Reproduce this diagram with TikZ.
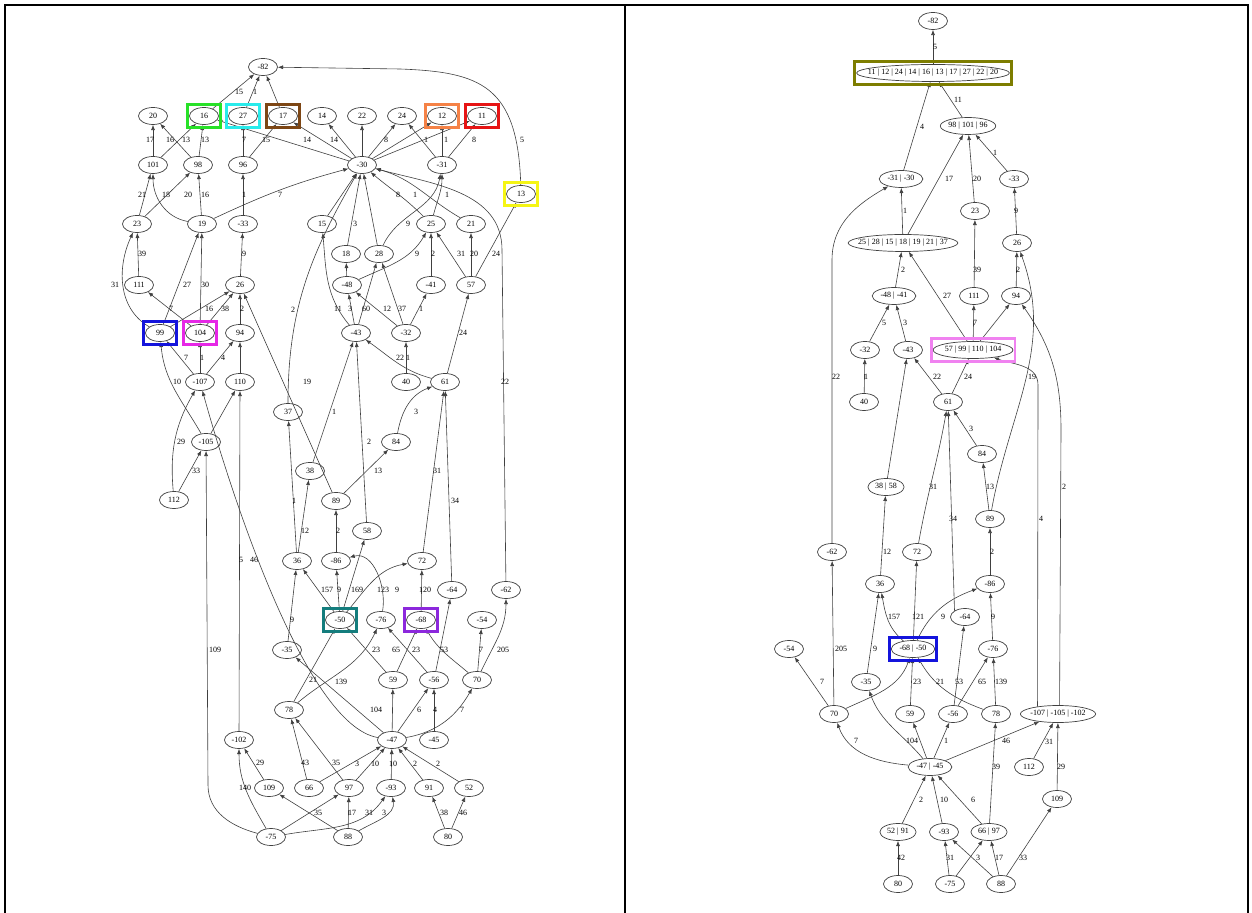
\documentclass[tikz,border=0pt]{standalone}
\usepackage{fontspec}
\setmainfont{Liberation Serif}
\usetikzlibrary{arrows.meta,fit,shapes.geometric}

\definecolor{hlgreen}{RGB}{40,225,40}
\definecolor{hlcyan}{RGB}{40,235,235}
\definecolor{hlbrown}{RGB}{125,70,20}
\definecolor{hlorange}{RGB}{245,130,70}
\definecolor{hlred}{RGB}{230,20,20}
\definecolor{hlyellow}{RGB}{245,245,20}
\definecolor{hlblue}{RGB}{20,20,220}
\definecolor{hlmagenta}{RGB}{230,40,230}
\definecolor{hlteal}{RGB}{20,125,125}
\definecolor{hlpurple}{RGB}{140,40,220}
\definecolor{hlolive}{RGB}{125,125,0}
\definecolor{hlpink}{RGB}{240,130,240}

\begin{document}
\begin{tikzpicture}[x=0.5pt,y=-0.5pt,
    vtx/.style={draw=black!75, ellipse, line width=0.35pt, minimum width=14.5pt, minimum height=8.5pt,
        inner xsep=1pt, inner ysep=0pt, font=\fontsize{4}{5}\selectfont},
    el/.style={inner sep=0pt, text=black, font=\fontsize{4}{5}\selectfont},
    arr/.style={-{Latex[length=2.6pt,width=2pt]}, line width=0.3pt, black!75},
    hl/.style={draw=#1, line width=1.4pt, inner xsep=0.8pt, inner ysep=1.3pt}]
\useasboundingbox (0,0) rectangle (1252,913);
% frame
\draw[line width=1.1pt] (5,913) -- (5,5) -- (1248,5) -- (1248,913);
\draw[line width=1.1pt] (625,5) -- (625,913);

% left graph
\node[vtx] (lm82) at (263,67) {-82};
\node[vtx] (l20) at (153,116) {20};
\node[vtx] (l16) at (204,116) {16};
\node[vtx] (l27) at (243,116) {27};
\node[vtx] (l17) at (283,116) {17};
\node[vtx] (l14) at (322,116) {14};
\node[vtx] (l22) at (362,116) {22};
\node[vtx] (l24) at (402,116) {24};
\node[vtx] (l12) at (442,116) {12};
\node[vtx] (l11) at (482,116) {11};
\node[vtx] (l101) at (153,165) {101};
\node[vtx] (l98) at (198,165) {98};
\node[vtx] (l96) at (243,165) {96};
\node[vtx] (lm30) at (362,165) {-30};
\node[vtx] (lm31) at (442,165) {-31};
\node[vtx] (l13) at (521,194) {13};
\node[vtx] (l23) at (137,224) {23};
\node[vtx] (l19) at (202,224) {19};
\node[vtx] (lm33) at (243,224) {-33};
\node[vtx] (l15) at (322,224) {15};
\node[vtx] (l25) at (431,224) {25};
\node[vtx] (l21) at (471,224) {21};
\node[vtx] (l18) at (346,254) {18};
\node[vtx] (l28) at (379,254) {28};
\node[vtx] (l111) at (139,285) {111};
\node[vtx] (l26) at (240,285) {26};
\node[vtx] (lm48) at (347,285) {-48};
\node[vtx] (lm41) at (431,285) {-41};
\node[vtx] (l57) at (471,285) {57};
\node[vtx] (l99) at (160,333) {99};
\node[vtx] (l104) at (200,333) {104};
\node[vtx] (l94) at (240,333) {94};
\node[vtx] (lm43) at (356,333) {-43};
\node[vtx] (lm32) at (406,333) {-32};
\node[vtx] (lm107) at (200,382) {-107};
\node[vtx] (l110) at (240,382) {110};
\node[vtx] (l40) at (406,382) {40};
\node[vtx] (l61) at (445,382) {61};
\node[vtx] (l37) at (288,412) {37};
\node[vtx] (lm105) at (206,442) {-105};
\node[vtx] (l84) at (396,442) {84};
\node[vtx] (l38) at (310,471) {38};
\node[vtx] (l112) at (174,500) {112};
\node[vtx] (l89) at (336,501) {89};
\node[vtx] (l58) at (367,531) {58};
\node[vtx] (l36) at (297,561) {36};
\node[vtx] (lm86) at (336,561) {-86};
\node[vtx] (l72) at (422,561) {72};
\node[vtx] (lm64) at (452,590) {-64};
\node[vtx] (lm62) at (506,590) {-62};
\node[vtx] (lm50) at (340,620) {-50};
\node[vtx] (lm76) at (381,620) {-76};
\node[vtx] (lm68) at (421,620) {-68};
\node[vtx] (lm54) at (482,620) {-54};
\node[vtx] (lm35) at (287,650) {-35};
\node[vtx] (l59) at (393,680) {59};
\node[vtx] (lm56) at (434,680) {-56};
\node[vtx] (l70) at (477,680) {70};
\node[vtx] (l78) at (289,710) {78};
\node[vtx] (lm102) at (239,740) {-102};
\node[vtx] (lm47) at (392,740) {-47};
\node[vtx] (lm45) at (434,740) {-45};
\node[vtx] (l109) at (269,788) {109};
\node[vtx] (l66) at (309,788) {66};
\node[vtx] (l97) at (349,788) {97};
\node[vtx] (lm93) at (391,788) {-93};
\node[vtx] (l91) at (429,788) {91};
\node[vtx] (l52) at (469,788) {52};
\node[vtx] (lm75) at (271,837) {-75};
\node[vtx] (l88) at (348,837) {88};
\node[vtx] (l80) at (448,837) {80};

\draw[arr] (l16) -- (lm82) node[el] at (239,92) {15};
\draw[arr] (l27) -- (lm82) node[el] at (255,92) {1};
\draw[arr] (l17) -- (lm82);
\draw[arr] (l13) .. controls (518,85) and (480,72) .. (400,69) -- (lm82) node[el] at (522,140) {5};
\draw[arr] (l101) -- (l20) node[el] at (150,140) {17};
\draw[arr] (l98) -- (l20) node[el] at (170,140) {16};
\draw[arr] (l101) -- (l16) node[el] at (186,140) {13};
\draw[arr] (l98) -- (l16) node[el] at (205,140) {13};
\draw[arr] (l96) -- (l27) node[el] at (244,140) {7};
\draw[arr] (l96) -- (l17) node[el] at (266,140) {15};
\draw[arr] (lm30) -- (l16) node[el] at (307,140) {14};
\draw[arr] (lm30) -- (l17);
\draw[arr] (lm30) -- (l14) node[el] at (334,140) {14};
\draw[arr] (lm30) -- (l22);
\draw[arr] (lm30) -- (l24) node[el] at (386,140) {8};
\draw[arr] (lm30) -- (l12);
\draw[arr] (lm30) -- (l11);
\draw[arr] (lm31) -- (l24) node[el] at (426,140) {1};
\draw[arr] (lm31) -- (l12) node[el] at (446,140) {1};
\draw[arr] (lm31) -- (l11) node[el] at (474,140) {8};
\draw[arr] (l23) -- (l101) node[el] at (142,195) {21};
\draw[arr] (l19) to[out=170,in=-90] (l101) node[el] at (166,195) {18};
\draw[arr] (l23) -- (l98) node[el] at (188,195) {20};
\draw[arr] (l19) -- (l98) node[el] at (205,195) {16};
\draw[arr] (lm33) -- (l96) node[el] at (244,195) {1};
\draw[arr] (l19) to[out=25,in=195] (lm30) node[el] at (280,195) {7};
\draw[arr] (l111) -- (l23) node[el] at (142,254) {39};
\draw[arr] (l99) to[out=150,in=-115] (l23) node[el] at (115,285) {31};
\draw[arr] (l99) -- (l19) node[el] at (187,285) {27};
\draw[arr] (l104) -- (l19) node[el] at (205,285) {30};
\draw[arr] (l104) -- (l111) node[el] at (171,309) {7};
\draw[arr] (l99) -- (l26) node[el] at (209,309) {16};
\draw[arr] (l104) -- (l26) node[el] at (225,309) {38};
\draw[arr] (l94) -- (l26) node[el] at (242,309) {2};
\draw[arr] (l26) -- (lm33) node[el] at (244,254) {9};
\draw[arr] (lm107) -- (l99) node[el] at (186,358) {7};
\draw[arr] (lm107) -- (l104) node[el] at (202,358) {1};
\draw[arr] (lm107) -- (l94) node[el] at (223,358) {4};
\draw[arr] (l110) -- (l94);
\draw[arr] (lm105) to[out=120,in=-85] (l99) node[el] at (177,382) {10};
\draw[arr] (lm105) -- (l110);
\draw[arr] (l112) to[out=95,in=-120] (lm107) node[el] at (181,442) {29};
\draw[arr] (l112) -- (lm105) node[el] at (196,471) {33};
\draw[arr] (lm75) to[out=165,in=-90] (208,785) -- (lm105) node[el] at (215,650) {109};
\draw[arr] (lm102) -- (l110) node[el] at (241,560) {5};
\draw[arr] (lm47) .. controls (305,725) and (230,490) .. (lm107) node[el] at (254,560) {46};
\draw[arr] (l89) -- (l26) node[el] at (307,382) {19};
\draw[arr] (l37) to[out=90,in=-120] (lm30) node[el] at (293,310) {2};
\draw[arr] (l36) -- (l37) node[el] at (294,501) {1};
\draw[arr] (l36) -- (l38) node[el] at (305,531) {12};
\draw[arr] (l38) -- (lm43) node[el] at (334,412) {1};
\draw[arr] (lm35) -- (l36) node[el] at (292,620) {9};
\draw[arr] (lm50) -- (l36) node[el] at (327,590) {157};
\draw[arr] (lm50) -- (lm86) node[el] at (339,590) {9};
\draw[arr] (lm50) -- (l58) node[el] at (357,590) {169};
\draw[arr] (lm50) to[out=50,in=190] (l72) node[el] at (383,590) {123};
\draw[arr] (lm76) to[out=80,in=15] (lm86) node[el] at (397,590) {9};
\draw[arr] (lm68) -- (l72) node[el] at (425,590) {120};
\draw[arr] (lm86) -- (l89) node[el] at (338,531) {2};
\draw[arr] (l89) -- (l84) node[el] at (378,471) {13};
\draw[arr] (l58) -- (lm43) node[el] at (369,442) {2};
\draw[arr] (l84) to[out=80,in=200] (l61) node[el] at (416,412) {3};
\draw[arr] (l72) -- (l61) node[el] at (437,471) {31};
\draw[arr] (lm64) -- (l61) node[el] at (455,501) {34};
\draw[arr] (l61) -- (l57) node[el] at (463,333) {24};
\draw[arr] (l61) to[out=165,in=-35] (lm43) node[el] at (400,358) {22};
\draw[arr] (l40) -- (lm32) node[el] at (408,358) {1};
\draw[arr] (lm32) -- (lm41) node[el] at (421,309) {1};
\draw[arr] (lm32) -- (lm48) node[el] at (387,309) {12};
\draw[arr] (lm32) -- (l28) node[el] at (402,309) {37};
\draw[arr] (lm43) -- (lm48) node[el] at (350,309) {3};
\draw[arr] (lm43) to[out=130,in=-85] (l15) node[el] at (338,309) {11};
\draw[arr] (lm43) -- (l28) node[el] at (366,309) {60};
\draw[arr] (lm48) to[out=25,in=-120] (l25) node[el] at (417,254) {9};
\draw[arr] (lm48) -- (l18);
\draw[arr] (l18) -- (lm30) node[el] at (355,224) {3};
\draw[arr] (l15) -- (lm30);
\draw[arr] (l28) -- (lm30);
\draw[arr] (l28) to[out=65,in=-100] (lm31) node[el] at (408,224) {9};
\draw[arr] (l25) to[out=75,in=-90] (lm31) node[el] at (447,195) {1};
\draw[arr] (l25) to[out=135,in=-40] (lm30) node[el] at (398,195) {8};
\draw[arr] (l21) to[out=150,in=-15] (lm30) node[el] at (415,195) {1};
\draw[arr] (lm62) -- (502,250) to[out=90,in=-15] (lm30) node[el] at (505,382) {22};
\draw[arr] (l57) -- (l25) node[el] at (461,254) {31};
\draw[arr] (lm41) -- (l25) node[el] at (433,254) {2};
\draw[arr] (l57) -- (l21) node[el] at (474,254) {20};
\draw[arr] (l57) -- (l13) node[el] at (496,254) {24};
\draw[arr] (l70) to[out=65,in=-90] (lm62) node[el] at (503,650) {205};
\draw[arr] (l70) -- (lm54) node[el] at (481,650) {7};
\draw[arr] (l70) to[out=140,in=-60] (lm68);
\draw[arr] (l59) -- (lm68) node[el] at (416,650) {23};
\draw[arr] (lm56) -- (lm64) node[el] at (444,650) {53};
\draw[arr] (lm56) -- (lm76) node[el] at (396,650) {65};
\draw[arr] (l59) -- (lm50) node[el] at (376,650) {23};
\draw[arr] (l78) -- (lm50) node[el] at (313,680) {21};
\draw[arr] (l78) to[out=40,in=-115] (lm76) node[el] at (341,682) {139};
\draw[arr] (lm47) -- (lm35) node[el] at (376,710) {104};
\draw[arr] (lm47) -- (l59);
\draw[arr] (lm47) -- (lm56) node[el] at (419,710) {6};
\draw[arr] (lm45) -- (lm56) node[el] at (435,710) {4};
\draw[arr] (lm47) to[out=10,in=-120] (l70) node[el] at (462,710) {7};
\draw[arr] (l66) -- (l78) node[el] at (305,763) {43};
\draw[arr] (l97) -- (l78) node[el] at (336,763) {35};
\draw[arr] (l66) -- (lm47) node[el] at (357,764) {3};
\draw[arr] (l97) -- (lm47) node[el] at (375,764) {10};
\draw[arr] (lm93) -- (lm47) node[el] at (393,764) {10};
\draw[arr] (l91) -- (lm47) node[el] at (415,764) {2};
\draw[arr] (l52) -- (lm47) node[el] at (438,764) {2};
\draw[arr] (l88) -- (l97) node[el] at (352,813) {17};
\draw[arr] (lm75) to[out=10,in=-125] (lm93) node[el] at (369,813) {31};
\draw[arr] (l88) to[out=30,in=-80] (lm93) node[el] at (384,813) {3};
\draw[arr] (lm75) -- (l97) node[el] at (318,813) {35};
\draw[arr] (l88) -- (l109);
\draw[arr] (lm75) to[out=120,in=-90] (lm102) node[el] at (245,788) {140};
\draw[arr] (l109) -- (lm102) node[el] at (260,763) {29};
\draw[arr] (l80) -- (l91) node[el] at (444,813) {38};
\draw[arr] (l80) -- (l52) node[el] at (463,813) {46};

% left highlight boxes
\node[hl=hlgreen, fit=(l16)] (b16) {};
\node[hl=hlcyan, fit=(l27)] (b27) {};
\node[hl=hlbrown, fit=(l17)] (b17) {};
\node[hl=hlorange, fit=(l12)] (b12) {};
\node[hl=hlred, fit=(l11)] (b11) {};
\node[hl=hlyellow, fit=(l13)] (b13) {};
\node[hl=hlblue, fit=(l99)] (b99) {};
\node[hl=hlmagenta, fit=(l104)] (b104) {};
\node[hl=hlteal, fit=(lm50)] (bm50) {};
\node[hl=hlpurple, fit=(lm68)] (bm68) {};

% right graph
\node[vtx] (rm82) at (933,21) {-82};
\node[vtx, inner xsep=-5.5pt] (rbig) at (933,73) {11 | 12 | 24 | 14 | 16 | 13 | 17 | 27 | 22 | 20};
\node[vtx, inner xsep=0pt] (r98) at (968,126) {98 | 101 | 96};
\node[vtx] (rm31) at (901,179) {-31 | -30};
\node[vtx] (rm33) at (1014,179) {-33};
\node[vtx] (r23) at (975,211) {23};
\node[vtx, inner xsep=-3pt] (r25) at (903,243) {25 | 28 | 15 | 18 | 19 | 21 | 37};
\node[vtx] (r26) at (1017,243) {26};
\node[vtx] (rm48) at (894,296) {-48 | -41};
\node[vtx] (r111) at (974,296) {111};
\node[vtx] (r94) at (1016,296) {94};
\node[vtx] (rm32) at (865,350) {-32};
\node[vtx] (rm43) at (908,350) {-43};
\node[vtx, inner xsep=0pt] (r57) at (973,350) {57 | 99 | 110 | 104};
\node[vtx] (r40) at (864,402) {40};
\node[vtx] (r61) at (948,402) {61};
\node[vtx] (r84) at (982,454) {84};
\node[vtx] (r38) at (886,487) {38 | 58};
\node[vtx] (r89) at (990,519) {89};
\node[vtx] (rm62) at (832,552) {-62};
\node[vtx] (r72) at (917,552) {72};
\node[vtx] (r36) at (880,584) {36};
\node[vtx] (rm86) at (990,584) {-86};
\node[vtx] (rm64) at (965,617) {-64};
\node[vtx] (rm54) at (789,649) {-54};
\node[vtx] (rm68) at (913,649) {-68 | -50};
\node[vtx] (rm76) at (993,649) {-76};
\node[vtx] (rm35) at (866,682) {-35};
\node[vtx] (r70) at (834,714) {70};
\node[vtx] (r59) at (910,714) {59};
\node[vtx] (rm56) at (953,714) {-56};
\node[vtx] (r78) at (996,714) {78};
\node[vtx, inner xsep=-0.5pt] (rm107) at (1058,714) {-107 | -105 | -102};
\node[vtx] (rm47) at (930,767) {-47 | -45};
\node[vtx] (r112) at (1029,767) {112};
\node[vtx] (r109) at (1057,799) {109};
\node[vtx] (r52) at (898,832) {52 | 91};
\node[vtx] (rm93) at (944,832) {-93};
\node[vtx] (r66) at (989,832) {66 | 97};
\node[vtx] (r80) at (898,884) {80};
\node[vtx] (rm75) at (950,884) {-75};
\node[vtx] (r88) at (1001,884) {88};

\draw[arr] (rbig) -- (rm82) node[el] at (935,47) {5};
\draw[arr] (rm31) -- (rbig) node[el] at (922,127) {4};
\draw[arr] (r98) -- (rbig) node[el] at (958,100) {11};
\draw[arr] (r25) -- (r98) node[el] at (949,179) {17};
\draw[arr] (r23) -- (r98) node[el] at (977,179) {20};
\draw[arr] (rm33) -- (r98) node[el] at (995,153) {1};
\draw[arr] (r25) -- (rm31) node[el] at (905,211) {1};
\draw[arr] (rm62) -- (832,260) to[out=90,in=-150] (rm31) node[el] at (836,377) {22};
\draw[arr] (r111) -- (r23) node[el] at (977,270) {39};
\draw[arr] (r94) -- (r26) node[el] at (1018,270) {2};
\draw[arr] (r26) -- (rm33) node[el] at (1016,211) {9};
\draw[arr] (r89) to[out=80,in=-70] (r26) node[el] at (1032,377) {19};
\draw[arr] (r57) -- (r25) node[el] at (947,296) {27};
\draw[arr] (r57) -- (r111) node[el] at (975,323) {7};
\draw[arr] (r57) -- (r94);
\draw[arr] (rm48) -- (r25) node[el] at (903,270) {2};
\draw[arr] (rm32) -- (rm48) node[el] at (884,323) {5};
\draw[arr] (rm43) -- (rm48) node[el] at (905,323) {3};
\draw[arr] (r40) -- (rm32) node[el] at (866,377) {1};
\draw[arr] (r61) -- (rm43) node[el] at (937,377) {22};
\draw[arr] (r61) -- (r57) node[el] at (968,377) {24};
\draw[arr] (r38) -- (rm43);
\draw[arr] (r84) -- (r61) node[el] at (971,429) {3};
\draw[arr] (r72) to[out=80,in=-100] (r61) node[el] at (933,487) {31};
\draw[arr] (rm64.north west) -- (r61) node[el] at (953,519) {34};
\draw[arr] (r89) -- (r84) node[el] at (990,487) {13};
\draw[arr] (rm86) -- (r89) node[el] at (992,552) {2};
\draw[arr] (r36) -- (r38) node[el] at (887,552) {12};
\draw[arr] (rm68) to[out=140,in=-80] (r36) node[el] at (894,617) {157};
\draw[arr] (rm68) -- (r72) node[el] at (918,617) {121};
\draw[arr] (rm68) to[out=65,in=200] (rm86) node[el] at (943,617) {9};
\draw[arr] (rm76) -- (rm86) node[el] at (993,617) {9};
\draw[arr] (rm35) -- (r36) node[el] at (875,649) {9};
\draw[arr] (r70) -- (rm54) node[el] at (822,682) {7};
\draw[arr] (r70) -- (rm62) node[el] at (841,649) {205};
\draw[arr] (r70) to[out=25,in=-110] (rm68);
\draw[arr] (r59) -- (rm68) node[el] at (917,682) {23};
\draw[arr] (r78) to[out=160,in=-60] (rm68) node[el] at (940,682) {21};
\draw[arr] (rm56) -- (rm64) node[el] at (959,682) {53};
\draw[arr] (rm56) -- (rm76) node[el] at (982,682) {65};
\draw[arr] (r78) -- (rm76) node[el] at (1001,682) {139};
\draw[arr] (rm47) to[out=175,in=-70] (r70) node[el] at (856,741) {7};
\draw[arr] (rm47) to[out=130,in=-70] (rm35);
\draw[arr] (rm47) -- (r59) node[el] at (912,741) {104};
\draw[arr] (rm47) -- (rm56) node[el] at (946,741) {1};
\draw[arr] (rm47) -- (rm107) node[el] at (1006,741) {46};
\draw[arr] (r112) -- (rm107) node[el] at (1049,742) {31};
\draw[arr] (r109) -- (rm107) node[el] at (1061,767) {29};
\draw[arr] (r52) -- (rm47) node[el] at (921,800) {2};
\draw[arr] (rm93) -- (rm47) node[el] at (944,800) {10};
\draw[arr] (r66) -- (rm47) node[el] at (973,800) {6};
\draw[arr] (r66) -- (r78) node[el] at (996,767) {39};
\draw[arr] (r80) -- (r52) node[el] at (901,858) {42};
\draw[arr] (rm75) -- (rm93) node[el] at (950,858) {31};
\draw[arr] (rm75) -- (r66) node[el] at (978,858) {3};
\draw[arr] (r88) -- (rm93);
\draw[arr] (r88) -- (r66) node[el] at (999,858) {17};
\draw[arr] (r88) -- (r109) node[el] at (1023,858) {33};
\draw[arr] (rm107.160) -- (1038,385) to[out=90,in=-20] (r57) node[el] at (1041,519) {4};
\draw[arr] (rm107.80) -- (1061,430) to[out=90,in=-55] (r94) node[el] at (1064,487) {2};

% right highlight boxes
\node[hl=hlolive, fit=(rbig)] (bbig) {};
\node[hl=hlpink, fit=(r57)] (b57) {};
\node[hl=hlblue, fit=(rm68)] (bm68r) {};
\end{tikzpicture}
\end{document}
